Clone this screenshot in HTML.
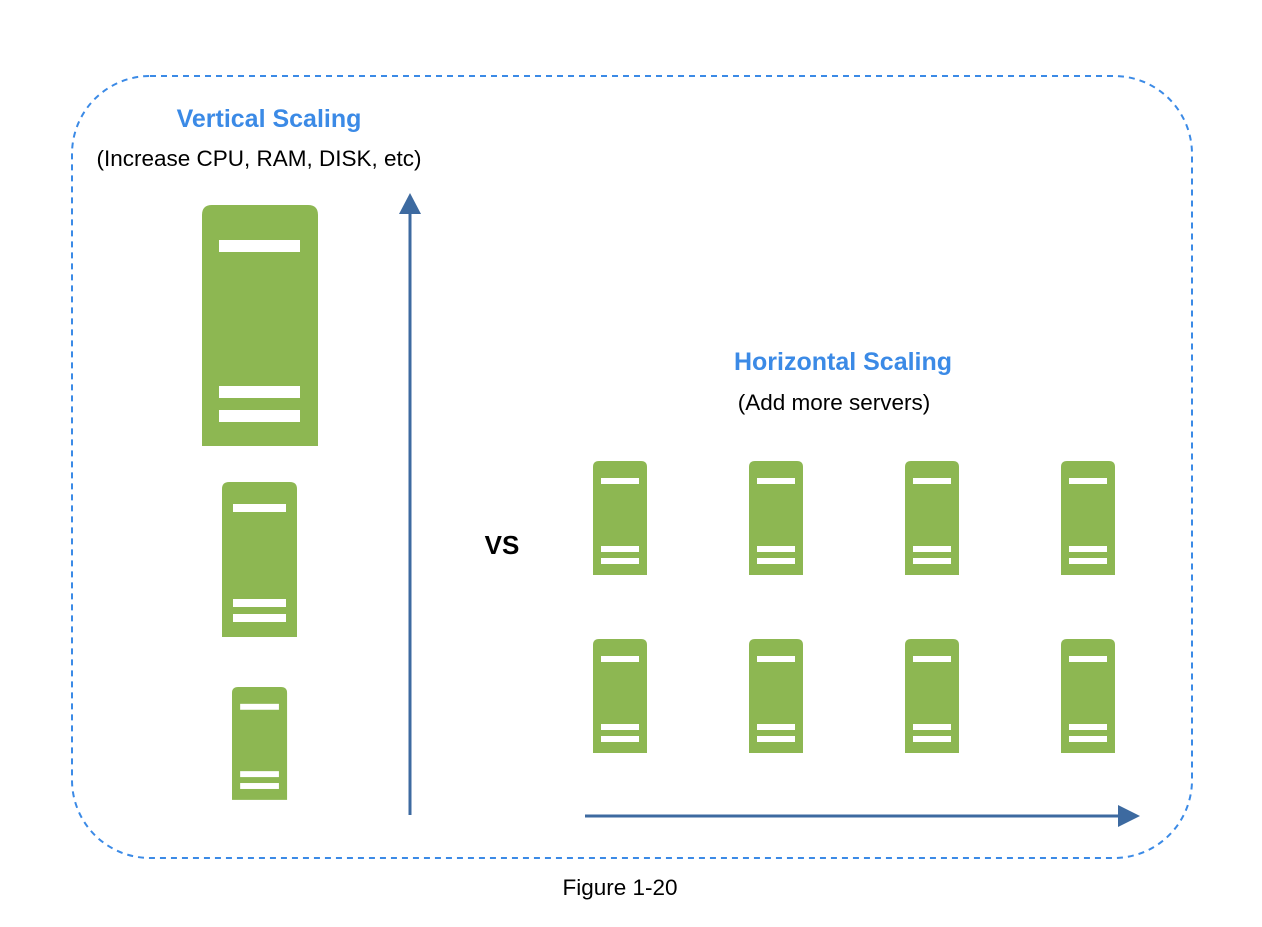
<!DOCTYPE html>
<html><head><style>body{margin:0;background:#fff;}</style></head><body>
<svg width="1262" height="922" xmlns="http://www.w3.org/2000/svg" font-family="Liberation Sans, Arial, sans-serif">
<defs>
<g id="s"><path d="M0,6 Q0,0 6,0 H48 Q54,0 54,6 V114 H0 Z" fill="#8db752"/><rect x="8" y="17" width="38" height="6" fill="#fff"/><rect x="8" y="85" width="38" height="6" fill="#fff"/><rect x="8" y="97" width="38" height="6" fill="#fff"/></g>
</defs>
<rect x="72" y="76" width="1120" height="782" rx="78" ry="78" fill="none" stroke="#3b8ae6" stroke-width="2" stroke-dasharray="6,5"/>
<text x="269" y="127" text-anchor="middle" font-size="25" font-weight="bold" fill="#3b8ae6">Vertical Scaling</text>
<text x="259" y="166" text-anchor="middle" font-size="22.5" fill="#000">(Increase CPU, RAM, DISK, etc)</text>
<text x="843" y="370" text-anchor="middle" font-size="25" font-weight="bold" fill="#3b8ae6">Horizontal Scaling</text>
<text x="834" y="410" text-anchor="middle" font-size="22.5" fill="#000">(Add more servers)</text>
<text x="502" y="554" text-anchor="middle" font-size="26" font-weight="bold" fill="#000">VS</text>
<text x="620" y="895" text-anchor="middle" font-size="22.5" fill="#000">Figure 1-20</text>
<path d="M202,215 Q202,205 212,205 H308 Q318,205 318,215 V446 H202 Z" fill="#8db752"/>
<rect x="219" y="240" width="81" height="12" fill="#fff"/><rect x="219" y="386" width="81" height="12" fill="#fff"/><rect x="219" y="410" width="81" height="12" fill="#fff"/>
<path d="M222,489 Q222,482 229,482 H290 Q297,482 297,489 V637 H222 Z" fill="#8db752"/>
<rect x="233" y="504" width="53" height="8" fill="#fff"/><rect x="233" y="599" width="53" height="8" fill="#fff"/><rect x="233" y="614" width="53" height="8" fill="#fff"/>
<use href="#s" transform="translate(232,687) scale(1.02,0.99)"/>
<use href="#s" x="593" y="461"/><use href="#s" x="749" y="461"/><use href="#s" x="905" y="461"/><use href="#s" x="1061" y="461"/>
<use href="#s" x="593" y="639"/><use href="#s" x="749" y="639"/><use href="#s" x="905" y="639"/><use href="#s" x="1061" y="639"/>
<line x1="410" y1="815" x2="410" y2="208" stroke="#3d6aa0" stroke-width="3"/>
<polygon points="410,193 399,214 421,214" fill="#3d6aa0"/>
<line x1="585" y1="816" x2="1125" y2="816" stroke="#3d6aa0" stroke-width="3"/>
<polygon points="1140,816 1118,805 1118,827" fill="#3d6aa0"/>
</svg>
</body></html>
